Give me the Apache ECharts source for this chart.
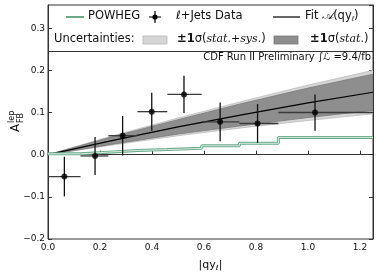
<!DOCTYPE html>
<html><head><meta charset="utf-8">
<script src="https://cdn.jsdelivr.net/npm/echarts@6/dist/echarts.min.js"></script>
<style>html,body{margin:0;padding:0;background:#fff}#c{width:385px;height:277px}</style>
</head><body><div id="c"></div>
<script>
// ---- data ----
var dataX    = [0.063, 0.181, 0.287, 0.399, 0.523, 0.662, 0.806, 1.027];
var dataY    = [-0.052, -0.003, 0.045, 0.102, 0.143, 0.078, 0.074, 0.100];
var binLo    = [0.000, 0.125, 0.232, 0.344, 0.459, 0.591, 0.736, 0.886];
var binHi    = [0.125, 0.232, 0.344, 0.459, 0.591, 0.736, 0.886, 1.250];
var dataErr  = [0.047, 0.045, 0.047, 0.045, 0.044, 0.046, 0.046, 0.043];

var powhegEdges  = [0.000, 0.125, 0.232, 0.344, 0.459, 0.591, 0.736, 0.886, 1.250];
var powhegValues = [0.002, 0.006, 0.010, 0.012, 0.015, 0.021, 0.027, 0.041];

var fitX      = [0.00, 0.25, 0.50, 0.75, 1.00, 1.25];
var fitY      = [0.000, 0.034, 0.066, 0.095, 0.123, 0.148];
var statHi    = [0.000, 0.043, 0.083, 0.122, 0.158, 0.191];
var statLo    = [0.000, 0.025, 0.049, 0.069, 0.088, 0.105];
var totHi     = [0.000, 0.045, 0.087, 0.127, 0.165, 0.200];
var totLo     = [0.000, 0.023, 0.045, 0.064, 0.081, 0.097];

var xTickLabels = ['0.0','0.2','0.4','0.6','0.8','1.0','1.2'];
var yTickLabels = ['\u22120.2','\u22120.1','0.0','0.1','0.2','0.3'];

// ---- build ----
var FONT = 'DejaVu Sans';
function fmt(v){ return (Math.abs(v) < 1e-9 ? 0 : v).toFixed(1).replace('-', '\u2212'); }

var stepData = powhegEdges.map(function(e,i){
  return [e, powhegValues[Math.min(i, powhegValues.length-1)]];
});
var errData = dataX.map(function(x,i){ return [x, dataY[i], binLo[i], binHi[i], dataErr[i]]; });
var ptsData = dataX.map(function(x,i){ return [x, dataY[i]]; });
var fitData = fitX.map(function(x,i){ return [x, fitY[i]]; });

function bandSeries(hi, lo, fill, stroke){
  return {
    type:'custom', coordinateSystem:'cartesian2d', silent:true, clip:true,
    data:[[0,0]],
    renderItem:function(params, api){
      var pts = [];
      for (var i=0;i<fitX.length;i++) pts.push(api.coord([fitX[i], hi[i]]));
      for (var j=fitX.length-1;j>=0;j--) pts.push(api.coord([fitX[j], lo[j]]));
      return {type:'polygon', shape:{points:pts}, style:{fill:fill, stroke:stroke, lineWidth:0.8}};
    }
  };
}

var chart = echarts.init(document.getElementById('c'), null, {renderer:'canvas'});
var option = {
  animation:false,
  backgroundColor:'#fff',
  textStyle:{fontFamily:FONT},
  grid:{left:48, right:12, top:5, bottom:35, show:true, borderColor:'#333', borderWidth:1, backgroundColor:'transparent'},
  xAxis:[{
    type:'value', min:0, max:1.25, interval:0.2,
    axisLine:{show:true, lineStyle:{color:'#333'}},
    axisTick:{show:true, inside:true, length:4, lineStyle:{color:'#333'}},
    splitLine:{show:false},
    axisLabel:{show:true, showMaxLabel:false, margin:4, fontSize:9, color:'#111', fontFamily:FONT,
      formatter:function(v){ var k=Math.round(v/0.2); return Math.abs(v-k*0.2)<1e-6 ? xTickLabels[k] : ''; }},
    name:'|qy{s|\u2113}|', nameLocation:'middle', nameGap:20,
    nameTextStyle:{fontSize:11, color:'#111', fontFamily:FONT, rich:{s:{fontSize:7, verticalAlign:'bottom', padding:[6,0,0,0], fontStyle:'italic', fontFamily:FONT}}}
  }],
  yAxis:[{
    type:'value', min:-0.2, max:0.355, interval:0.1,
    axisLine:{show:true, lineStyle:{color:'#333'}},
    axisTick:{show:true, inside:true, length:4, lineStyle:{color:'#333'}},
    splitLine:{show:false},
    axisLabel:{show:true, showMaxLabel:false, margin:3, fontSize:9, color:'#111', fontFamily:FONT,
      formatter:function(v){ var k=Math.round((v+0.2)/0.1); return Math.abs(v-(-0.2+k*0.1))<1e-6 && k<yTickLabels.length ? yTickLabels[k] : ''; }}
  },{
    type:'value', min:-0.2, max:0.355, interval:0.1, position:'right',
    axisLine:{show:true, lineStyle:{color:'#333'}},
    axisTick:{show:true, inside:true, length:4, lineStyle:{color:'#333'}},
    axisLabel:{show:false}, splitLine:{show:false}
  }],
  series:[
    bandSeries(totHi, totLo, '#d6d6d6', '#bdbdbd'),
    bandSeries(statHi, statLo, '#8e8e8e', '#7a7a7a'),
    {type:'line', data:fitData, smooth:false, symbol:'none', silent:true,
     lineStyle:{color:'#000', width:1.2}, z:3},
    {type:'line', data:stepData, step:'end', symbol:'none', silent:true,
     lineStyle:{color:'#69a98a', width:3}, z:4},
    {type:'line', data:stepData, step:'end', symbol:'none', silent:true,
     lineStyle:{color:'#d9ede2', width:1}, z:4},
    {type:'custom', coordinateSystem:'cartesian2d', silent:true, data:errData, z:5,
     renderItem:function(params, api){
       var x=api.value(0), y=api.value(1), lo=api.value(2), hi=api.value(3), e=api.value(4);
       var a=api.coord([lo,y]), b=api.coord([hi,y]), c=api.coord([x,y+e]), d=api.coord([x,y-e]);
       return {type:'group', children:[
         {type:'line', shape:{x1:a[0],y1:a[1],x2:b[0],y2:b[1]}, style:{stroke:'#3a3a3a', lineWidth:1.3}},
         {type:'line', shape:{x1:c[0],y1:c[1],x2:d[0],y2:d[1]}, style:{stroke:'#111', lineWidth:1.3}}
       ]};
     }},
    {type:'scatter', data:ptsData, symbol:'circle', symbolSize:6, silent:true, itemStyle:{color:'#000'}, z:6}
  ],
  graphic:[
    // legend frame separator
    {type:'line', shape:{x1:48, y1:51.5, x2:373, y2:51.5}, style:{stroke:'#333', lineWidth:1}, z:10},
    // row 1
    {type:'line', shape:{x1:66, y1:17, x2:84, y2:17}, style:{stroke:'#69a98a', lineWidth:2}, z:10},
    {type:'text', left:88, top:10, style:{text:'POWHEG', font:'11.5px "DejaVu Sans"', fill:'#111'}, z:10},
    {type:'line', shape:{x1:155, y1:11, x2:155, y2:23}, style:{stroke:'#111', lineWidth:1.3}, z:10},
    {type:'line', shape:{x1:149, y1:17, x2:161, y2:17}, style:{stroke:'#333', lineWidth:1.3}, z:10},
    {type:'circle', shape:{cx:155, cy:17, r:2.6}, style:{fill:'#000'}, z:10},
    {type:'text', left:176, top:10, style:{rich:{i:{fontStyle:'italic', fontFamily:FONT, fontSize:11.5}}, text:'{i|\u2113}+Jets Data', font:'11.5px "DejaVu Sans"', fill:'#111'}, z:10},
    {type:'line', shape:{x1:273, y1:17, x2:300, y2:17}, style:{stroke:'#000', lineWidth:1.2}, z:10},
    {type:'text', left:305, top:10, style:{rich:{a:{fontStyle:'italic', fontFamily:'DejaVu Serif', fontSize:12}, s:{fontSize:7, fontStyle:'italic', padding:[6,0,0,0]}}, text:'Fit {a|\uD835\uDC9C}(qy{s|\u2113})', font:'11.5px "DejaVu Sans"', fill:'#111'}, z:10},
    // row 2
    {type:'text', left:54, top:33, style:{text:'Uncertainties:', font:'11.5px "DejaVu Sans"', fill:'#111'}, z:10},
    {type:'rect', shape:{x:143, y:36, width:24, height:8}, style:{fill:'#d6d6d6', stroke:'#b5b5b5', lineWidth:0.8}, z:10},
    {type:'text', left:177, top:33, style:{rich:{b:{fontWeight:'bold', fontFamily:FONT, fontSize:11.5}, i:{fontStyle:'italic', fontFamily:'DejaVu Serif', fontSize:11}}, text:'{b|\u00B11}\u03C3({i|stat.+sys.})', font:'11.5px "DejaVu Sans"', fill:'#111'}, z:10},
    {type:'rect', shape:{x:274, y:36, width:24, height:8}, style:{fill:'#8e8e8e', stroke:'#777', lineWidth:0.8}, z:10},
    {type:'text', left:310, top:33, style:{rich:{b:{fontWeight:'bold', fontFamily:FONT, fontSize:11.5}, i:{fontStyle:'italic', fontFamily:'DejaVu Serif', fontSize:11}}, text:'{b|\u00B11}\u03C3({i|stat.})', font:'11.5px "DejaVu Sans"', fill:'#111'}, z:10},
    // CDF annotation
    {type:'text', right:14, top:52, style:{text:'CDF Run II Preliminary \u222B\u2112 =9.4/fb', font:'10px "DejaVu Sans"', fill:'#111'}, z:10},
    // y-axis label A^lep_FB rotated
    {type:'group', x:16, y:128, rotation:Math.PI/2, z:10, children:[
      {type:'text', x:0, y:0, style:{text:'A', font:'12px "DejaVu Sans"', fill:'#111', textAlign:'center', textVerticalAlign:'middle'}},
      {type:'text', x:5, y:-4, style:{text:'lep', font:'8px "DejaVu Sans"', fill:'#111', textAlign:'left', textVerticalAlign:'middle'}},
      {type:'text', x:5, y:5, style:{text:'FB', font:'8px "DejaVu Sans"', fill:'#111', textAlign:'left', textVerticalAlign:'middle'}}
    ]}
  ]
};
chart.setOption(option);
</script>
</body></html>
